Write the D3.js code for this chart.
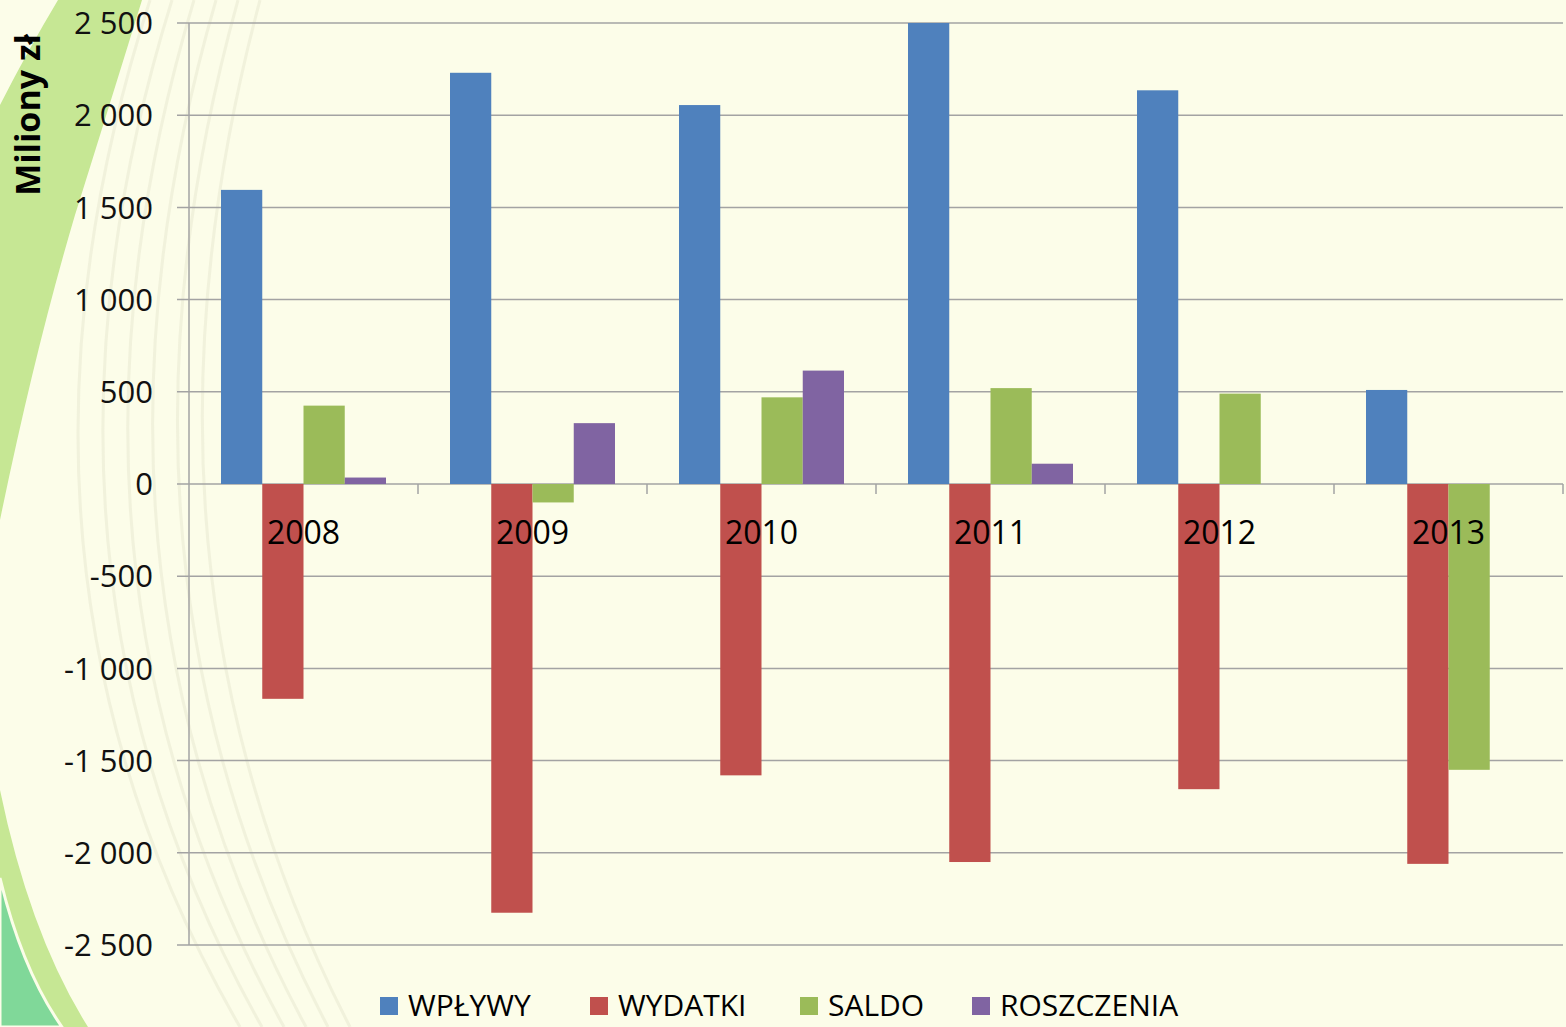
<!DOCTYPE html>
<html>
<head>
<meta charset="utf-8">
<script src="https://cdn.jsdelivr.net/npm/d3@7"></script>
<style>
  body { margin: 0; background: #fcfde9; }
  svg { display: block; }
</style>
</head>
<body>
<div id="chart"></div>
<script>
// data
var years = ["2008", "2009", "2010", "2011", "2012", "2013"];
var seriesNames = ["WPŁYWY", "WYDATKI", "SALDO", "ROSZCZENIA"];
var seriesColors = ["#4f81bd", "#c0504d", "#9bbb59", "#8064a2"];
var wplywy = [1595, 2230, 2055, 2500, 2135, 510];
var wydatki = [-1165, -2325, -1580, -2050, -1655, -2060];
var saldo = [425, -100, 470, 520, 490, -1550];
var roszczenia = [35, 330, 615, 110, 0, 0];
var yTicks = [-2500, -2000, -1500, -1000, -500, 0, 500, 1000, 1500, 2000, 2500];

var W = 1566, H = 1027;
var m = {t:23, r:3, b:82, l:189};

var svg = d3.select("#chart").append("svg")
  .attr("width", W)
  .attr("height", H);

// background decoration
svg.append("rect").attr("width", W).attr("height", H).attr("fill", "#fcfde9");

var deco = svg.append("g").attr("class", "deco");
deco.append("path")
  .attr("d", "M58,0 L142,0 Q108,110 75,215 Q35,350 0,520 L0,105 Q28,50 58,0 Z")
  .attr("fill", "#c6e794");
for (var k = 0; k < 6; k++) {
  deco.append("path")
    .attr("d", "M" + (150 + k*22) + ",0 Q" + (-30 + k*28) + ",560 " + (240 + k*22) + ",1027")
    .attr("fill", "none")
    .attr("stroke", "#ececd6")
    .attr("stroke-width", 3)
    .attr("opacity", 0.7);
}
deco.append("path")
  .attr("d", "M0,790 Q30,935 88,1027 L0,1027 Z")
  .attr("fill", "#c6e794");
deco.append("path")
  .attr("d", "M0,878 Q22,970 62,1027 L0,1027 Z")
  .attr("fill", "#80d899")
  .attr("stroke", "#fbfde9")
  .attr("stroke-width", 3);

var g = svg.append("g")
  .attr("transform", "translate(" + m.l + "," + m.t + ")");

var w = W - m.l - m.r,
    h = H - m.t - m.b;

var y = d3.scaleLinear().domain([-2500, 2500]).range([h, 0]);
var x0 = d3.scaleBand().domain(years).range([0, w]).padding(0);
var x1 = d3.scaleBand().domain(seriesNames).range([0, x0.bandwidth()])
  .paddingInner(0).paddingOuter(0.776);

// gridlines
g.selectAll(".grid")
  .data(yTicks)
  .enter()
  .append("line")
  .attr("class", "grid")
  .attr("x1", -12)
  .attr("x2", w)
  .attr("y1", function(d){ return y(d); })
  .attr("y2", function(d){ return y(d); })
  .attr("stroke", "#a3a3a3")
  .attr("stroke-width", 1.5);

// y axis line
g.append("line")
  .attr("x1", 0).attr("x2", 0)
  .attr("y1", 0).attr("y2", h)
  .attr("stroke", "#a3a3a3")
  .attr("stroke-width", 1.5);

// category ticks on zero line
g.selectAll(".xtick")
  .data(years)
  .enter()
  .append("line")
  .attr("class", "xtick")
  .attr("x1", function(d){ return x0(d) + x0.bandwidth(); })
  .attr("x2", function(d){ return x0(d) + x0.bandwidth(); })
  .attr("y1", y(0))
  .attr("y2", y(0) + 10)
  .attr("stroke", "#a3a3a3")
  .attr("stroke-width", 1.5);

// y tick labels
var fmt = function(d){
  return d3.format(",")(d).replace(/,/g, " ").replace("−", "-");
};
g.selectAll(".ylab")
  .data(yTicks)
  .enter()
  .append("text")
  .attr("class", "ylab")
  .attr("x", -36)
  .attr("y", function(d){ return y(d); })
  .attr("dy", "0.36em")
  .attr("text-anchor", "end")
  .attr("font-family", "'Open Sans', sans-serif")
  .attr("font-size", "31px")
  .attr("fill", "#111")
  .text(fmt);

// bars
var allSeries = [wplywy, wydatki, saldo, roszczenia];
var barData = [];
years.forEach(function(yr, i){
  seriesNames.forEach(function(s, j){
    barData.push({year: yr, series: s, value: allSeries[j][i], color: seriesColors[j]});
  });
});

g.selectAll(".bar")
  .data(barData)
  .enter()
  .append("rect")
  .attr("class", "bar")
  .attr("x", function(d){ return x0(d.year) + x1(d.series); })
  .attr("width", x1.bandwidth())
  .attr("y", function(d){ return y(Math.max(0, d.value)); })
  .attr("height", function(d){ return Math.abs(y(d.value) - y(0)); })
  .attr("fill", function(d){ return d.color; });

// year labels
g.selectAll(".xlab")
  .data(years)
  .enter()
  .append("text")
  .attr("class", "xlab")
  .attr("x", function(d){ return x0(d) + x0.bandwidth()/2; })
  .attr("y", y(0) + 60)
  .attr("text-anchor", "middle")
  .attr("font-family", "'Open Sans', sans-serif")
  .attr("font-size", "32px")
  .attr("fill", "#000")
  .text(function(d){ return d; });

// axis title
svg.append("text")
  .attr("transform", "translate(40,115) rotate(-90)")
  .attr("text-anchor", "middle")
  .attr("font-family", "'Open Sans', sans-serif")
  .attr("font-weight", "bold")
  .attr("font-size", "34px")
  .attr("fill", "#000")
  .text("Miliony zł");

// legend
var legendX = [380, 590, 800, 972];
var legend = svg.selectAll(".legend")
  .data(seriesNames)
  .enter()
  .append("g")
  .attr("class", "legend")
  .attr("transform", function(d, i){ return "translate(" + legendX[i] + ",997)"; });

legend.append("rect")
  .attr("width", 18)
  .attr("height", 18)
  .attr("fill", function(d, i){ return seriesColors[i]; });

legend.append("text")
  .attr("x", 28)
  .attr("y", 19)
  .attr("font-family", "'Open Sans', sans-serif")
  .attr("font-size", "30px")
  .attr("fill", "#000")
  .text(function(d){ return d; });
</script>
</body>
</html>
